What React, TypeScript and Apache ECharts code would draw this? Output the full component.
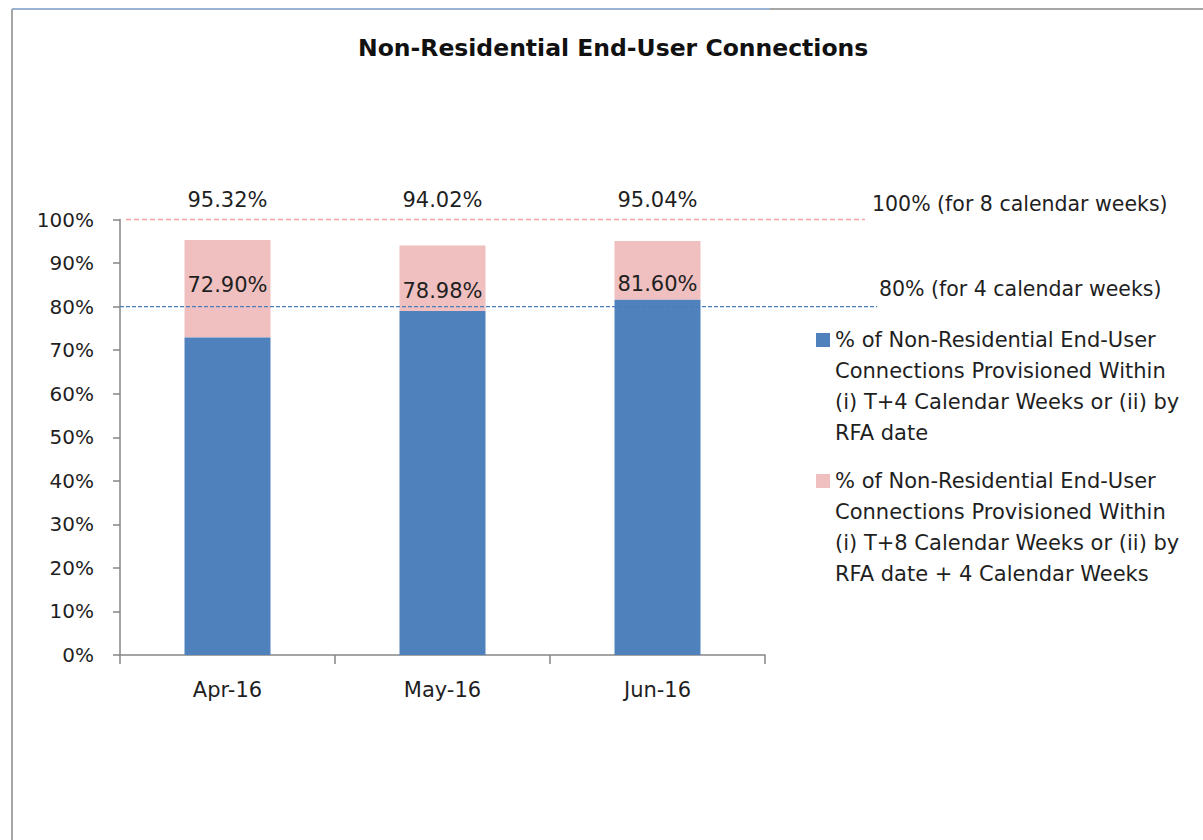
import React, { useEffect, useRef } from "react";
import * as echarts from "echarts";

// ---------- data ----------
const categories = ["Apr-16", "May-16", "Jun-16"];
const within4Weeks = [72.9, 78.98, 81.6];
const within8WeeksTotal = [95.32, 94.02, 95.04];
const target8Weeks = 100;
const target4Weeks = 80;
const target8Label = "100% (for 8 calendar weeks)";
const target4Label = "80% (for 4 calendar weeks)";
const yMin = 0;
const yMax = 100;
const yInterval = 10;
const titleText = "Non-Residential End-User Connections";
const seriesNames = [
  "% of Non-Residential End-User Connections Provisioned Within (i) T+4 Calendar Weeks or (ii) by RFA date",
  "% of Non-Residential End-User Connections Provisioned Within (i) T+8 Calendar Weeks or (ii) by RFA date + 4 Calendar Weeks",
];
const legendLines = [
  ["% of Non-Residential End-User", "Connections Provisioned Within", "(i) T+4 Calendar Weeks or (ii) by", "RFA date"],
  ["% of Non-Residential End-User", "Connections Provisioned Within", "(i) T+8 Calendar Weeks or (ii) by", "RFA date + 4 Calendar Weeks"],
];

// ---------- layout / style ----------
const FONT = "DejaVu Sans";
const TEXT = "#1f1f1f";
const AXIS = "#868686";
const BLUE = "#4F81BD";
const PINK = "#EFC0BF";
const TARGET8_COLOR = "#F4A2A2";
const TARGET4_COLOR = "#4A7EBB";
const GRID_TOP = 219.5;
const GRID_BOTTOM = 840 - 655;
const PX_PER_UNIT = (655 - GRID_TOP) / (yMax - yMin);
const totalLabelLevel = 104.5;
const blueLabelLevels = [84.9, 83.5, 85.2];
const LEG_LH = 31;

const pct = (v: number) => v.toFixed(2) + "%";
const increment = within8WeeksTotal.map((t, i) => +(t - within4Weeks[i]).toFixed(2));

export default function App() {
  const ref = useRef<HTMLDivElement>(null);
  useEffect(() => {
    if (!ref.current) return;
    const chart = echarts.init(ref.current, undefined, { renderer: "svg" });
    const legendBase = (name: string, idx: number, firstLineY: number) => {
      const n = legendLines[idx].length;
      return {
        data: [name],
        orient: "vertical",
        left: 816,
        top: firstLineY - (n - 0.5) * LEG_LH,
        padding: 0,
        icon: "rect",
        itemWidth: 14,
        itemHeight: 14,
        selectedMode: false,
        // blank lines above the text make its first line the middle line,
        // so the icon sits beside the first line as in the reference
        formatter: () => "\n".repeat(n - 1) + legendLines[idx].join("\n"),
        textStyle: {
          fontFamily: FONT,
          fontSize: 21,
          lineHeight: LEG_LH,
          color: TEXT,
        },
      };
    };
    const hiddenAxis = { show: false, axisLine: { show: false }, axisTick: { show: false }, axisLabel: { show: false }, splitLine: { show: false } };
    chart.setOption({
      animation: false,
      backgroundColor: "#ffffff",
      textStyle: { fontFamily: FONT },
      title: {
        text: titleText,
        left: 358,
        top: 36,
        padding: 0,
        textStyle: { fontFamily: FONT, fontSize: 23.5, fontWeight: "bold", color: "#111" },
      },
      legend: [legendBase(seriesNames[0], 0, 340), legendBase(seriesNames[1], 1, 481)],
      grid: [
        { left: 120, right: 1203 - 765, top: GRID_TOP, bottom: GRID_BOTTOM },
        { left: 126, right: 1203 - 865, top: GRID_TOP, bottom: GRID_BOTTOM },
        { left: 120, right: 1203 - 877, top: GRID_TOP, bottom: GRID_BOTTOM },
      ],
      xAxis: [
        {
          type: "category",
          gridIndex: 0,
          data: categories,
          axisLine: { lineStyle: { color: AXIS, width: 1.5 } },
          axisTick: { show: true, length: 9, lineStyle: { color: AXIS, width: 1.5 } },
          axisLabel: { fontFamily: FONT, fontSize: 21, color: TEXT, margin: 24 },
        },
        { type: "category", gridIndex: 1, data: ["s", "e"], boundaryGap: false, ...hiddenAxis },
        { type: "category", gridIndex: 2, data: ["s", "e"], boundaryGap: false, ...hiddenAxis },
      ],
      yAxis: [
        {
          type: "value",
          gridIndex: 0,
          min: yMin,
          max: yMax,
          interval: yInterval,
          splitLine: { show: false },
          axisLine: { show: true, lineStyle: { color: AXIS, width: 1.5 } },
          axisTick: { show: true, length: 7, lineStyle: { color: AXIS, width: 1.5 } },
          axisLabel: { formatter: "{value}%", fontFamily: FONT, fontSize: 20, color: TEXT, margin: 26 },
        },
        { type: "value", gridIndex: 1, min: yMin, max: yMax, ...hiddenAxis },
        { type: "value", gridIndex: 2, min: yMin, max: yMax, ...hiddenAxis },
      ],
      series: [
        {
          name: seriesNames[0],
          type: "bar",
          stack: "total",
          data: within4Weeks,
          barCategoryGap: "60%",
          itemStyle: { color: BLUE },
          z: 3,
          markPoint: {
            symbol: "circle",
            symbolSize: 1,
            itemStyle: { color: "transparent" },
            label: {
              show: true,
              position: "inside",
              fontFamily: FONT,
              fontSize: 21,
              color: TEXT,
              formatter: (p: any) => pct(p.value),
            },
            data: within4Weeks.map((v, i) => ({
              coord: [categories[i], blueLabelLevels[i]],
              value: v,
            })),
          },
        },
        {
          name: seriesNames[1],
          type: "bar",
          stack: "total",
          data: increment.map((v, i) => ({
            value: v,
            label: {
              offset: [0, -(totalLabelLevel - within8WeeksTotal[i]) * PX_PER_UNIT],
            },
          })),
          itemStyle: { color: PINK },
          z: 2,
          label: {
            show: true,
            position: "top",
            distance: 0,
            verticalAlign: "middle",
            fontFamily: FONT,
            fontSize: 21,
            color: TEXT,
            formatter: (p: any) => pct(within8WeeksTotal[p.dataIndex]),
          },
        },
        {
          type: "line",
          xAxisIndex: 1,
          yAxisIndex: 1,
          data: [target8Weeks, target8Weeks],
          showSymbol: false,
          silent: true,
          clip: false,
          z: 5,
          color: TARGET8_COLOR,
          itemStyle: { color: TARGET8_COLOR },
          lineStyle: { color: TARGET8_COLOR, width: 1.5, type: [5, 3], opacity: 1 },
          endLabel: {
            show: true,
            formatter: () => target8Label,
            distance: 7,
            offset: [0, -16],
            fontFamily: FONT,
            fontSize: 20.5,
            color: TEXT,
          },
        },
        {
          type: "line",
          xAxisIndex: 2,
          yAxisIndex: 2,
          data: [target4Weeks, target4Weeks],
          showSymbol: false,
          silent: true,
          clip: false,
          z: 5,
          color: TARGET4_COLOR,
          itemStyle: { color: TARGET4_COLOR },
          lineStyle: { color: TARGET4_COLOR, width: 1.3, type: [4, 2] },
          endLabel: {
            show: true,
            formatter: () => target4Label,
            distance: 2,
            offset: [0, -18],
            fontFamily: FONT,
            fontSize: 20.5,
            color: TEXT,
          },
        },
      ],
      graphic: [
        { type: "line", shape: { x1: 12, y1: 9, x2: 770, y2: 9 }, style: { stroke: "#9DB3D4", lineWidth: 2 } },
        { type: "line", shape: { x1: 770, y1: 9, x2: 1203, y2: 9 }, style: { stroke: "#A6A6A6", lineWidth: 2 } },
        { type: "line", shape: { x1: 12, y1: 9, x2: 12, y2: 840 }, style: { stroke: "#A6A6A6", lineWidth: 2 } },
      ],
    });
    return () => chart.dispose();
  }, []);
  return (
    <div
      ref={ref}
      style={{ position: "absolute", left: 0, top: 0, width: 1203, height: 840 }}
    />
  );
}
